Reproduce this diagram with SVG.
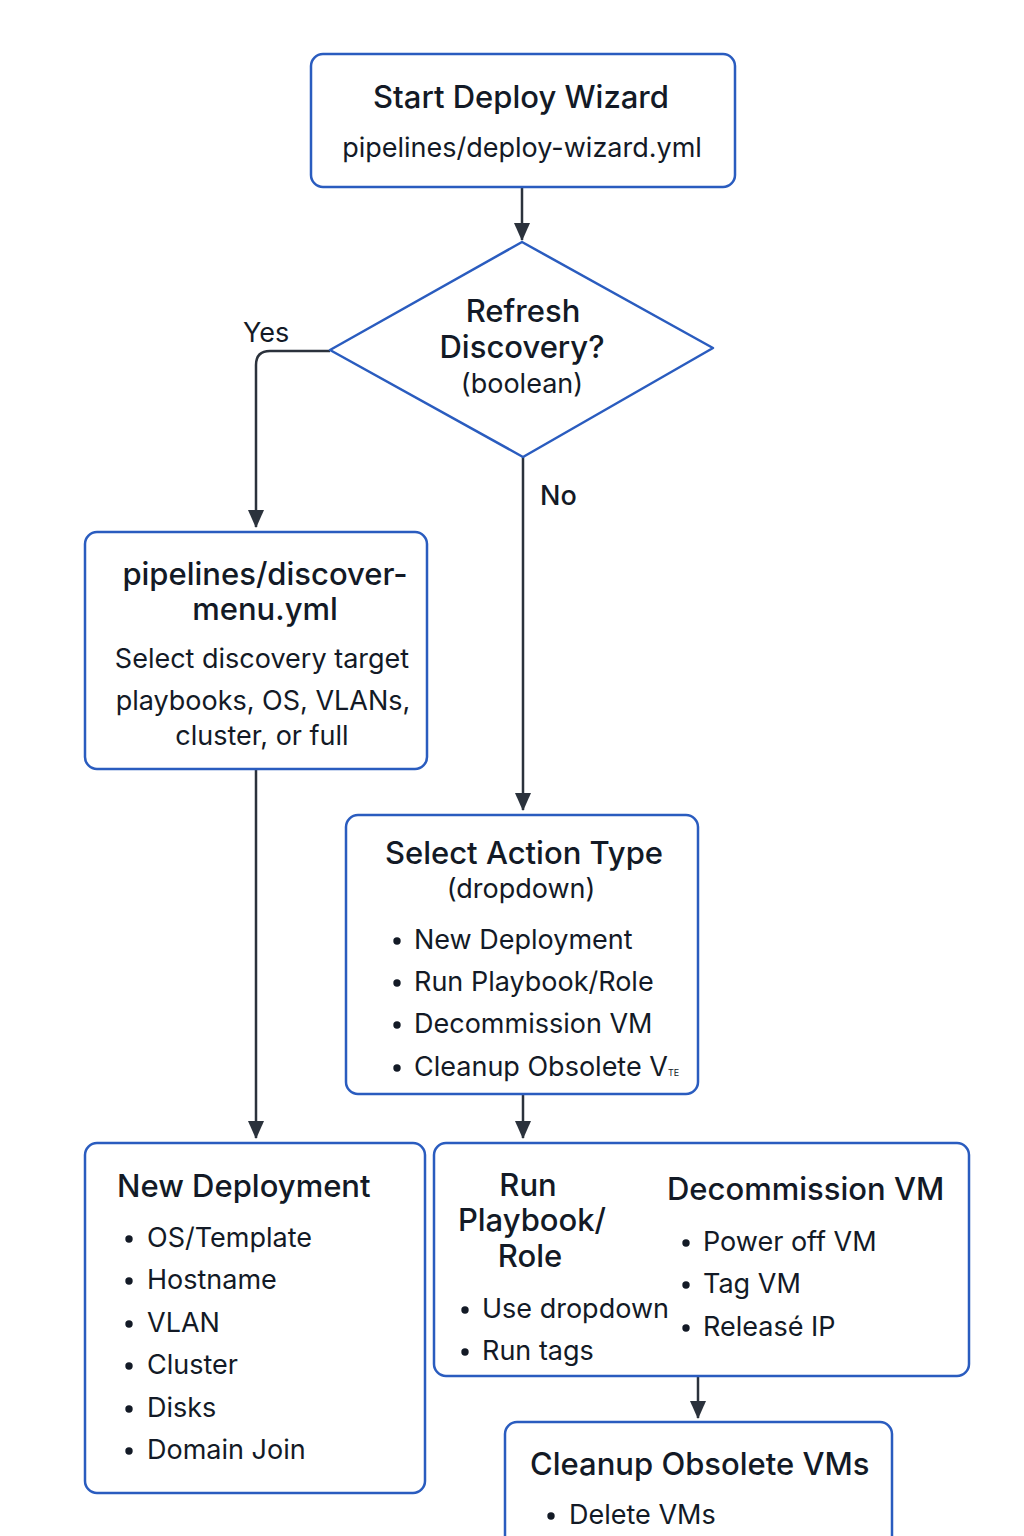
<svg xmlns="http://www.w3.org/2000/svg" width="1024" height="1536" viewBox="0 0 1024 1536">
<style>
.box{fill:#fff;stroke:#2a5cbf;stroke-width:2.5}
.t{font-family:Inter,"Noto Sans",sans-serif;fill:#131a26}
.h{font-size:31px;font-weight:500}
.b{font-size:27px}
.c{text-anchor:middle}
.ln{fill:none;stroke:#2b323c;stroke-width:2.5}
</style>
<defs>
<marker id="a" viewBox="0 0 18 16" refX="17" refY="8" markerWidth="18" markerHeight="16" markerUnits="userSpaceOnUse" orient="auto">
<path d="M0,0 L18,8 L0,16 z" fill="#2b323c"/>
</marker>
</defs>
<rect width="1024" height="1536" fill="#fff"/>
<g id="connectors">
<path class="ln" d="M522,187 V240" marker-end="url(#a)"/>
<path class="ln" d="M330,351 H270 Q256,351 256,365 V527" marker-end="url(#a)"/>
<path class="ln" d="M523,457 V810" marker-end="url(#a)"/>
<path class="ln" d="M256,769 V1138" marker-end="url(#a)"/>
<path class="ln" d="M523,1094 V1138" marker-end="url(#a)"/>
<path class="ln" d="M698,1376 V1418" marker-end="url(#a)"/>
<text class="t b" x="243" y="342" font-size="28">Yes</text>
<text class="t b" x="540" y="505" font-size="28" font-weight="500">No</text>
</g>
<g id="start">
<rect class="box" x="311" y="54" width="424" height="133" rx="12"/>
<text class="t h c" x="521" y="108">Start Deploy Wizard</text>
<text class="t b c" x="522" y="157">pipelines/deploy-wizard.yml</text>
</g>
<g id="refresh">
<path class="box" d="M522,242 L713,348 L523,457 L330,350 z" stroke-linejoin="round"/>
<text class="t h c" x="523" y="322">Refresh</text>
<text class="t h c" x="522" y="358">Discovery?</text>
<text class="t b c" x="522" y="393">(boolean)</text>
</g>
<g id="discover">
<rect class="box" x="85" y="532" width="342" height="237" rx="12"/>
<text class="t h c" x="265" y="585">pipelines/discover-</text>
<text class="t h c" x="265" y="620">menu.yml</text>
<text class="t b c" x="262" y="668">Select discovery target</text>
<text class="t b c" x="263" y="710">playbooks, OS, VLANs,</text>
<text class="t b c" x="262" y="745">cluster, or full</text>
</g>
<g id="select">
<rect class="box" x="346" y="815" width="352" height="279" rx="12"/>
<text class="t h c" x="524" y="864">Select Action Type</text>
<text class="t b c" x="521" y="898">(dropdown)</text>
<g class="t b">
<circle cx="397" cy="941" r="3.7" fill="#131a26"/><text x="414" y="949">New Deployment</text>
<circle cx="397" cy="983" r="3.7" fill="#131a26"/><text x="414" y="991">Run Playbook/Role</text>
<circle cx="397" cy="1025" r="3.7" fill="#131a26"/><text x="414" y="1033">Decommission VM</text>
<circle cx="397" cy="1068" r="3.7" fill="#131a26"/><text x="414" y="1076">Cleanup Obsolete V<tspan font-size="9">TE</tspan></text>
</g>
</g>
<g id="newdeploy">
<rect class="box" x="85" y="1143" width="340" height="350" rx="12"/>
<text class="t h" x="117" y="1197">New Deployment</text>
<g class="t b">
<circle cx="129" cy="1239" r="3.7" fill="#131a26"/><text x="147" y="1247">OS/Template</text>
<circle cx="129" cy="1281" r="3.7" fill="#131a26"/><text x="147" y="1289">Hostname</text>
<circle cx="129" cy="1324" r="3.7" fill="#131a26"/><text x="147" y="1332">VLAN</text>
<circle cx="129" cy="1366" r="3.7" fill="#131a26"/><text x="147" y="1374">Cluster</text>
<circle cx="129" cy="1409" r="3.7" fill="#131a26"/><text x="147" y="1417">Disks</text>
<circle cx="129" cy="1451" r="3.7" fill="#131a26"/><text x="147" y="1459">Domain Join</text>
</g>
</g>
<g id="rundecom">
<rect class="box" x="434" y="1143" width="535" height="233" rx="12"/>
<text class="t h c" x="528" y="1196">Run</text>
<text class="t h c" x="532" y="1231">Playbook/</text>
<text class="t h c" x="530" y="1267">Role</text>
<g class="t b">
<circle cx="465" cy="1310" r="3.7" fill="#131a26"/><text x="482" y="1318">Use dropdown</text>
<circle cx="465" cy="1352" r="3.7" fill="#131a26"/><text x="482" y="1360">Run tags</text>
</g>
<text class="t h" x="667" y="1200">Decommission VM</text>
<g class="t b">
<circle cx="686" cy="1243" r="3.7" fill="#131a26"/><text x="703" y="1251">Power off VM</text>
<circle cx="686" cy="1285" r="3.7" fill="#131a26"/><text x="703" y="1293">Tag VM</text>
<circle cx="686" cy="1328" r="3.7" fill="#131a26"/><text x="703" y="1336">Releasé IP</text>
</g>
</g>
<g id="cleanup">
<rect class="box" x="505" y="1422" width="387" height="140" rx="12"/>
<text class="t h" x="530" y="1475">Cleanup Obsolete VMs</text>
<g class="t b">
<circle cx="551" cy="1516" r="3.7" fill="#131a26"/><text x="569" y="1524">Delete VMs</text>
</g>
</g>
</svg>
